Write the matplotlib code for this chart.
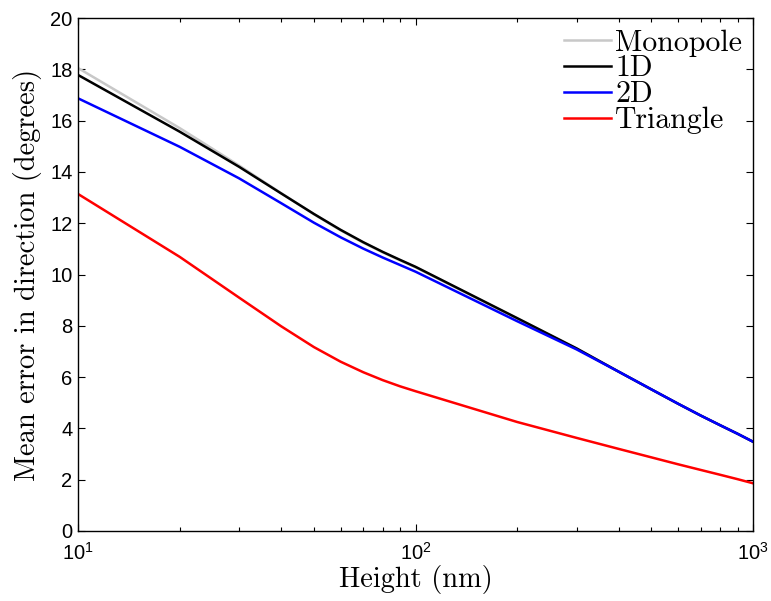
import matplotlib
matplotlib.use("Agg")
import matplotlib.pyplot as plt
from matplotlib.ticker import LogLocator, MultipleLocator

# Source heights (nm)
heights = [10, 20, 30, 40, 50, 60, 70, 80, 90, 100,
           200, 300, 400, 500, 600, 700, 800, 900, 1000]

# Mean direction error (degrees) for each sensor layout
monopole = [18.05, 15.71, 14.25, 13.17, 12.35, 11.72, 11.24, 10.86, 10.55, 10.28,
            8.28, 7.11, 6.21, 5.52, 4.96, 4.50, 4.12, 3.79, 3.48]
oned = [17.78, 15.57, 14.20, 13.16, 12.36, 11.74, 11.26, 10.88, 10.57, 10.30,
        8.30, 7.12, 6.21, 5.52, 4.96, 4.50, 4.12, 3.79, 3.48]
twod = [16.87, 14.98, 13.75, 12.78, 12.02, 11.45, 11.01, 10.66, 10.37, 10.11,
        8.18, 7.08, 6.21, 5.52, 4.96, 4.50, 4.12, 3.79, 3.48]
triangle = [13.14, 10.69, 9.10, 7.98, 7.17, 6.60, 6.19, 5.88, 5.64, 5.45,
            4.25, 3.63, 3.20, 2.87, 2.60, 2.38, 2.19, 2.02, 1.86]

series = [("Monopole", monopole, "#c8c8c8"),
          ("1D", oned, "black"),
          ("2D", twod, "#0000ff"),
          ("Triangle", triangle, "#ff0000")]

plt.rcParams["font.family"] = ["Liberation Sans", "DejaVu Sans"]
plt.rcParams["axes.formatter.use_mathtext"] = False

fig = plt.figure(figsize=(7.71, 6.01), dpi=100)
ax = fig.add_axes([0.1012, 0.1165, 0.8755, 0.8535])

for name, vals, col in series:
    ax.plot(heights, vals, color=col, lw=1.8, label=name)

ax.set_xscale("log")
ax.set_xlim(10, 1000)
ax.set_ylim(0, 20)
ax.yaxis.set_major_locator(MultipleLocator(2))
ax.xaxis.set_major_locator(LogLocator(base=10, numticks=10))
ax.xaxis.set_minor_locator(LogLocator(base=10, subs=range(2, 10), numticks=20))

ax.tick_params(which="both", direction="in", top=True, right=True,
               labelsize=14.5, width=0.8)
ax.tick_params(which="major", length=5)
ax.tick_params(which="minor", length=3)
ax.tick_params(axis="x", which="major", pad=8)
ax.tick_params(axis="y", pad=4)
for sp in ax.spines.values():
    sp.set_linewidth(1.0)

serif = dict(family="cmr10", size=20.5)
ax.set_xlabel("Height (nm)", fontdict=serif, labelpad=1)
ax.set_ylabel("Mean error in direction (degrees)", fontdict=serif, labelpad=6)

leg = ax.legend(loc="upper right", frameon=False, prop={"family": "cmr10", "size": 21.5},
                handlelength=1.55, handletextpad=0.15, labelspacing=-0.05,
                borderaxespad=0.0, borderpad=0.25)
leg.set_bbox_to_anchor((0.995, 0.993), transform=ax.transAxes)

fig.savefig("out.png", dpi=100)
